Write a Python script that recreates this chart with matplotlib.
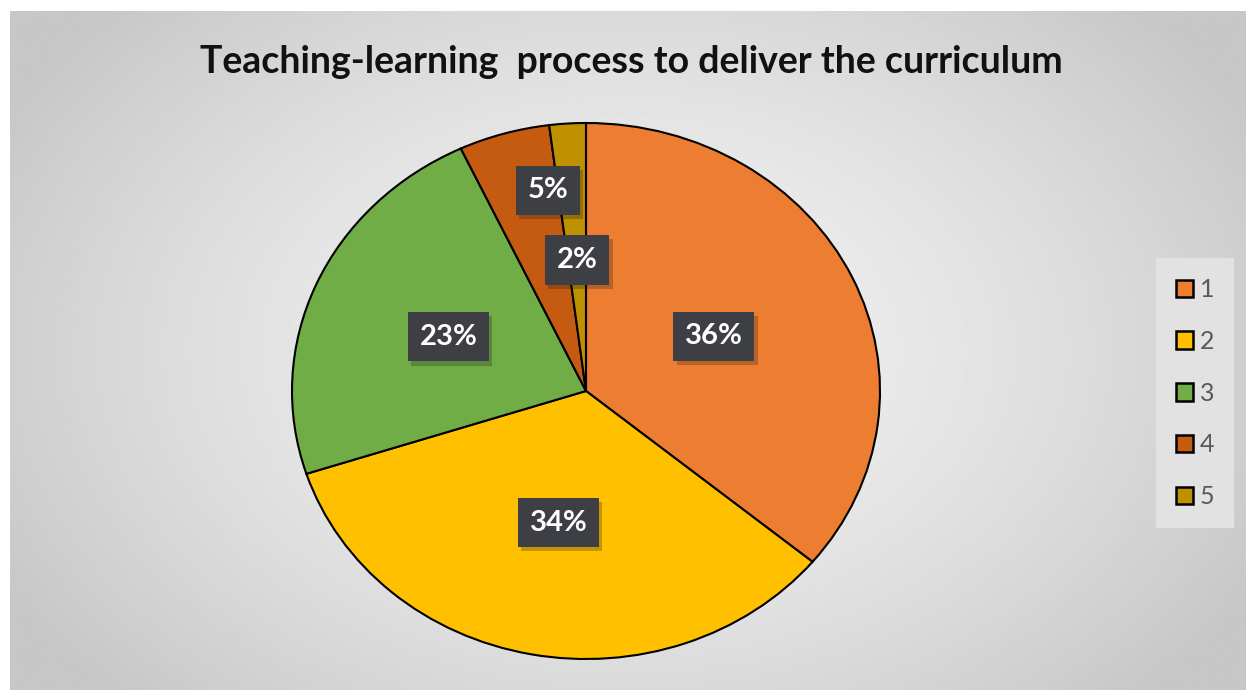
import matplotlib.pyplot as plt
import matplotlib.patheffects as pe
import numpy as np

# data
categories = ['1', '2', '3', '4', '5']
values = [36, 34, 23, 5, 2]
colors = ['#ED7D31', '#FFC000', '#70AD47', '#C55A11', '#BF9000']
# label placement inside each slice (radius fraction, angle nudge in degrees)
label_dist = [0.48, 0.50, 0.51, 0.76, 0.49]
label_nudge = [0, 0, 0, -6.4, 0]

plt.rcParams['font.family'] = ['Lato', 'DejaVu Sans']

fig = plt.figure(figsize=(12.46, 6.9), dpi=100)
fig.patch.set_facecolor('white')

# radial grey gradient background (leaves a white strip top/left)
bg = fig.add_axes([10 / 1246, 0, 1 - 10 / 1246, 1 - 11 / 690])
yy, xx = np.mgrid[-1:1:300j, -1:1:500j]
rr = np.sqrt((xx * 0.95) ** 2 + (yy * 0.75) ** 2)
bg.imshow(0.95 - 0.17 * np.clip(rr / 1.1, 0, 1) ** 1.5, cmap='gray', vmin=0, vmax=1,
          aspect='auto', extent=[0, 1, 0, 1], interpolation='bilinear')
bg.set_axis_off()

fig.text(631 / 1246, 1 - 62 / 690, 'Teaching-learning  process to deliver the curriculum',
         ha='center', va='center', fontsize=27, fontweight='bold', color='#111111')

# pie axes (the original is stretched horizontally)
ax = fig.add_axes([(586 - 294) / 1246, 1 - (391 + 268) / 690, 588 / 1246, 536 / 690])
wedges, _ = ax.pie(values, colors=colors, startangle=90, counterclock=False,
                   wedgeprops=dict(edgecolor='black', linewidth=1.5))
ax.set_aspect('auto')
ax.set_xlim(-1, 1)
ax.set_ylim(-1, 1)
ax.set_axis_off()

for w, v, d, n in zip(wedges, values, label_dist, label_nudge):
    ang = np.deg2rad((w.theta1 + w.theta2) / 2 + n)
    t = ax.text(d * np.cos(ang), d * np.sin(ang), f'{v}%', ha='center', va='center',
                fontsize=21, fontweight='bold', color='white',
                bbox=dict(boxstyle='square,pad=0.4', facecolor='#3d3f44', edgecolor='none'))
    t.get_bbox_patch().set_path_effects([pe.SimplePatchShadow(offset=(2.5, -3), alpha=0.25),
                                         pe.Normal()])

# legend
handles = [plt.Rectangle((0, 0), 1, 1, facecolor=c, edgecolor='black', linewidth=1.8) for c in colors]
leg = fig.legend(handles, categories, loc='center', bbox_to_anchor=(1195 / 1246, 1 - 393 / 690),
                 fontsize=18, labelcolor='#595959', handlelength=0.7, handleheight=0.7,
                 handletextpad=0.25, labelspacing=1.15, borderpad=0.8, fancybox=False,
                 framealpha=1)
leg.get_frame().set_facecolor('#e2e2e2')
leg.get_frame().set_edgecolor('none')

fig.savefig('out.png', dpi=100)
